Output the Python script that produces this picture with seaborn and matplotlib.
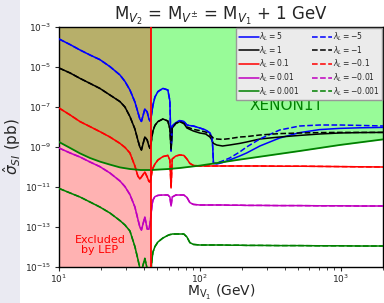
import numpy as np
import pandas as pd
import matplotlib
matplotlib.use("Agg")
import matplotlib.pyplot as plt
from matplotlib.patches import Rectangle
from matplotlib.ticker import NullLocator
import seaborn as sns

# ---------------- data ----------------
mass = [10, 12, 14.1, 16.6, 19.5, 23, 27.1, 29.4, 31.9, 34.6,
        36.3, 37.5, 38.5, 40.7, 42.3, 43.5, 44.3, 45.0, 45.8, 46.5,
        48, 50.4, 54.7, 59.3, 61.3, 62.5, 63.7, 67.6, 72, 77,
        81, 85, 90, 100, 110, 118, 122, 123.5, 125, 132,
        145, 163, 192, 215, 267, 369, 512, 710, 984, 1365, 2000]

# log10(sigma / pb)
log_lam_p5 = [-3.6, -3.88, -4.15, -4.4, -4.63, -4.98, -5.4, -5.72, -6.15, -6.75,
              -7.25, -7.6, -7.72, -7.1, -7.25, -7.6, -7.7, -7.55, -7.2, -6.9,
              -6.5, -6.23, -6.07, -6.15, -6.7, -9.2, -7.95, -7.78, -7.68, -7.72,
              -7.9, -7.93, -7.95, -8.05, -8.15, -8.3, -8.5, -9.0, -9.82, -9.85,
              -9.78, -9.65, -9.45, -9.3, -8.95, -8.55, -8.28, -8.13, -8.07, -8.04, -8.02]
log_lam_m5 = [-3.6, -3.88, -4.15, -4.4, -4.63, -4.98, -5.4, -5.72, -6.15, -6.75,
              -7.25, -7.6, -7.72, -7.1, -7.25, -7.6, -7.7, -7.55, -7.2, -6.9,
              -6.5, -6.23, -6.07, -6.15, -6.7, -9.2, -7.95, -7.78, -7.68, -7.72,
              -7.9, -7.93, -7.95, -8.05, -8.15, -8.3, -8.5, -9.0, -9.82, -9.8,
              -9.7, -9.55, -9.25, -9.0, -8.6, -8.15, -7.95, -7.9, -7.9, -7.92, -7.95]
log_lam_p1 = [-5.05, -5.3, -5.57, -5.82, -6.07, -6.4, -6.73, -7.0, -7.48, -8.1,
              -8.65, -9.0, -9.15, -8.5, -8.65, -8.95, -9.07, -8.85, -8.45, -8.2,
              -7.92, -7.73, -7.6, -7.7, -8.1, -9.15, -8.05, -7.82, -7.73, -7.82,
              -8.05, -8.12, -8.2, -8.3, -8.35, -8.5, -8.65, -8.75, -8.82, -8.9,
              -8.95, -8.9, -8.82, -8.75, -8.6, -8.5, -8.42, -8.35, -8.3, -8.28, -8.27]
log_lam_m1 = [-5.05, -5.3, -5.57, -5.82, -6.07, -6.4, -6.73, -7.0, -7.48, -8.1,
              -8.65, -9.0, -9.15, -8.5, -8.65, -8.95, -9.07, -8.85, -8.45, -8.2,
              -7.92, -7.73, -7.6, -7.7, -8.1, -9.15, -8.05, -7.82, -7.73, -7.82,
              -8.0, -8.05, -8.12, -8.18, -8.25, -8.4, -8.5, -8.52, -8.55, -8.6,
              -8.62, -8.58, -8.5, -8.48, -8.4, -8.33, -8.3, -8.28, -8.27, -8.27, -8.27]
log_lam_01 = [-7.05, -7.4, -7.73, -7.98, -8.23, -8.5, -8.82, -9.02, -9.3, -9.95,
              -10.45, -10.6, -10.5, -10.25, -10.5, -10.72, -10.75, -10.55, -10.2, -10.05,
              -9.85, -9.65, -9.48, -9.42, -9.65, -11.05, -9.6, -9.45, -9.4, -9.42,
              -9.6, -9.82, -9.92, -9.95, -9.95, -9.95, -9.95, -9.95, -9.95, -9.95,
              -9.95, -9.95, -9.95, -9.95, -9.95, -9.96, -9.96, -9.97, -9.98, -9.99, -10.0]
log_lam_001 = [-9.05, -9.3, -9.5, -9.75, -9.98, -10.3, -10.7, -10.98, -11.38, -12.0,
               -12.6, -13.0, -13.15, -12.5, -13.1, -13.1, -12.85, -12.4, -11.9, -11.65,
               -11.48, -11.42, -11.4, -11.4, -11.5, -11.95, -11.5, -11.4, -11.4, -11.4,
               -11.52, -11.78, -11.87, -11.9, -11.9, -11.9, -11.9, -11.9, -11.9, -11.9,
               -11.9, -11.91, -11.91, -11.92, -11.92, -11.93, -11.93, -11.94, -11.94, -11.95, -11.95]
log_lam_0001 = [-11.07, -11.3, -11.5, -11.75, -12.0, -12.3, -12.68, -12.9, -13.2, -13.98,
                -14.6, -15.05, -15.2, -14.57, -15.1, -15.2, -15.2, -15.2, -14.6, -14.25,
                -13.98, -13.75, -13.55, -13.42, -13.38, -13.37, -13.35, -13.35, -13.35, -13.35,
                -13.5, -13.78, -13.87, -13.9, -13.9, -13.9, -13.9, -13.9, -13.9, -13.9,
                -13.9, -13.91, -13.91, -13.92, -13.92, -13.93, -13.93, -13.94, -13.94, -13.95, -13.95]

xenon_mass = [10, 12, 14.1, 16.6, 19.5, 23, 27.1, 31.9, 38, 45, 60, 72, 100, 192, 512, 984, 2000]
xenon_log = [-8.75, -9.05, -9.32, -9.55, -9.73, -9.88, -10.02, -10.1, -10.15, -10.15,
             -10.1, -10.05, -9.93, -9.63, -9.2, -8.9, -8.62]

lep_limit = 45.0

series = [
    ("$\\lambda_L = 5$", log_lam_p5, "blue", "-"),
    ("$\\lambda_L = 1$", log_lam_p1, "black", "-"),
    ("$\\lambda_L = 0.1$", log_lam_01, "red", "-"),
    ("$\\lambda_L = 0.01$", log_lam_001, "m", "-"),
    ("$\\lambda_L = 0.001$", log_lam_0001, "green", "-"),
    ("$\\lambda_L = -5$", log_lam_m5, "blue", "--"),
    ("$\\lambda_L = -1$", log_lam_m1, "black", "--"),
    ("$\\lambda_L = -0.1$", log_lam_01, "red", "--"),
    ("$\\lambda_L = -0.01$", log_lam_001, "m", "--"),
    ("$\\lambda_L = -0.001$", log_lam_0001, "green", "--"),
]

# ---------------- figure ----------------
sns.set_style("ticks")
plt.rcParams["font.family"] = ["DejaVu Sans"]

fig = plt.figure(figsize=(3.84, 3.03), dpi=100)
fig.patches.append(Rectangle((0, 0), 20 / 384, 1, transform=fig.transFigure,
                             facecolor="#eaeaf2", edgecolor="none", zorder=-5))
ax = fig.add_axes([59 / 384, 1 - 267 / 303, 324 / 384, 240 / 303])

xen_sigma = 10 ** np.array(xenon_log)
ax.fill_between(xenon_mass, xen_sigma, 1e-3, color="palegreen", lw=0, zorder=0)
ax.axvspan(10, lep_limit, color="red", alpha=0.3, lw=0, zorder=1)

handles = []
for label, vals, col, ls in series:
    df = pd.DataFrame({"M": mass, "sigma": 10 ** np.array(vals)})
    sns.lineplot(data=df, x="M", y="sigma", color=col, linestyle=ls, lw=1.1,
                 ax=ax, sort=False, estimator=None, zorder=3)
    handles.append(ax.get_lines()[-1])
    handles[-1].set_label(label)

sns.lineplot(x=xenon_mass, y=xen_sigma, color="green", lw=1.3, ax=ax,
             sort=False, estimator=None, zorder=4)
ax.axvline(lep_limit, color="red", lw=1.3, zorder=5)

ax.set_xscale("log")
ax.set_yscale("log")
ax.set_xlim(10, 2000)
ax.set_ylim(1e-15, 1e-3)
ax.set_yticks([1e-15, 1e-13, 1e-11, 1e-9, 1e-7, 1e-5, 1e-3])
ax.yaxis.set_minor_locator(NullLocator())
ax.tick_params(labelsize=6.5, length=3, width=0.8, pad=2.5)
ax.tick_params(axis="x", pad=1)
ax.tick_params(which="minor", length=2, width=0.6)
for s in ax.spines.values():
    s.set_color("black")
    s.set_linewidth(1.0)

ax.set_xlabel("")
fig.text(221 / 384, 0.5 / 303, "M$_{\\mathregular{V_1}}$ (GeV)", fontsize=10,
         ha="center", va="bottom")
ax.set_ylabel("$\\hat{\\sigma}_{SI}$ (pb)", fontsize=11)
ax.yaxis.set_label_coords(-(59 - 23) / 324, 0.5)
ax.set_title("M$_{V_2}$ = M$_{V^{\\pm}}$ = M$_{V_1}$ + 1 GeV", fontsize=12, pad=4)

ax.text(414, 10 ** -6.9, "XENON1T", color="green", fontsize=11,
        ha="center", va="center", zorder=6)
ax.text(19.5, 10 ** -13.9, "Excluded\nby LEP", color="red", fontsize=8,
        ha="center", va="center", zorder=6, linespacing=1.1)

leg = ax.legend(handles=handles, ncol=2, loc="upper right", fontsize=5.5,
                frameon=True, fancybox=False, borderaxespad=0.15,
                handlelength=2.6, handletextpad=0.1, columnspacing=1.6,
                labelspacing=0.15, borderpad=0.3)
leg.get_frame().set_facecolor("#ebebeb")
leg.get_frame().set_edgecolor("#999999")
leg.get_frame().set_alpha(1)
leg.set_zorder(10)

fig.savefig("out.png", dpi=100)
